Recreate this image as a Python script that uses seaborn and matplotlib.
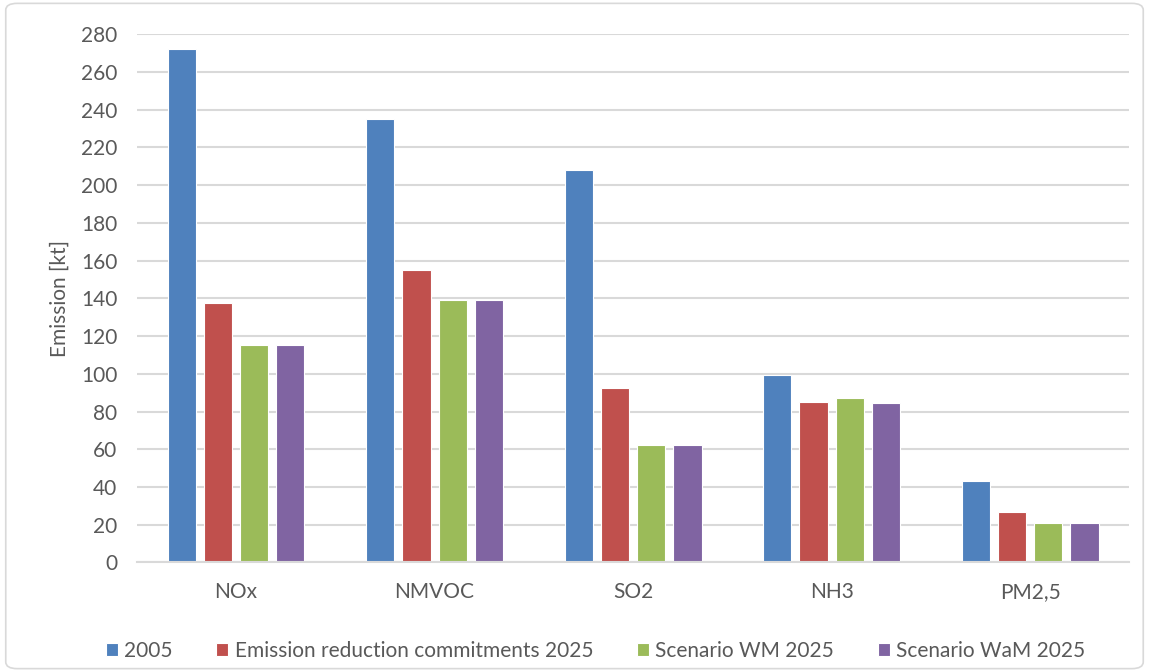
import pandas as pd
import seaborn as sns
import matplotlib.pyplot as plt
from matplotlib.patches import FancyBboxPatch

# Data
pollutants = ['NOx', 'NMVOC', 'SO2', 'NH3', 'PM2,5']
series = ['2005', 'Emission reduction commitments 2025',
          'Scenario WM 2025', 'Scenario WaM 2025']
values_2005 = [272.2, 235.1, 208.2, 99.2, 43.0]
values_commit = [137.5, 155.1, 92.7, 84.9, 26.6]
values_wm = [115.2, 139.2, 62.3, 87.4, 20.7]
values_wam = [115.2, 139.2, 62.3, 84.4, 20.7]
colors = ['#4F81BD', '#C0504D', '#9BBB59', '#8064A2']

# Long format for seaborn
df = pd.DataFrame({
    'Pollutant': pollutants * 4,
    'Series': [s for s in series for _ in pollutants],
    'Emission': values_2005 + values_commit + values_wm + values_wam,
})

sns.set_theme(style='white')
plt.rcParams['font.family'] = ['Lato', 'DejaVu Sans']
text_color = '#595959'

fig = plt.figure(figsize=(11.49, 6.72), dpi=100)
ax = fig.add_axes([0.119, 0.163, 0.864, 0.786])

sns.barplot(data=df, x='Pollutant', y='Emission', hue='Series',
            order=pollutants, hue_order=series, palette=colors,
            width=0.73, gap=0.22, edgecolor='white', linewidth=0.8,
            saturation=1, ax=ax)

ax.set_ylim(0, 280)
ax.set_yticks(range(0, 281, 20))
ax.yaxis.grid(True, color='#d9d9d9', linewidth=1.5)
ax.set_axisbelow(True)
for side in ['left', 'right', 'top']:
    ax.spines[side].set_visible(False)
ax.spines['bottom'].set_color('#d9d9d9')
ax.spines['bottom'].set_linewidth(1.5)
ax.tick_params(axis='both', length=0, labelsize=15, colors=text_color)
ax.tick_params(axis='x', pad=14)
ax.tick_params(axis='y', pad=14)
ax.set_xlabel('')
ax.set_ylabel('Emission [kt]', fontsize=15, color=text_color, labelpad=8)

# legend sits slightly left of the plot centre, as in the original
ax.legend(loc='center', bbox_to_anchor=(0.462, -0.168), ncol=4,
          frameon=False, fontsize=15, labelcolor=text_color,
          handlelength=0.58, handleheight=0.58, handletextpad=0.3,
          columnspacing=2.1)

# light grey chart border
fig.patches.append(FancyBboxPatch((0.005, 0.005), 0.99, 0.99,
                                  boxstyle='round,pad=0,rounding_size=0.01',
                                  transform=fig.transFigure, fill=False,
                                  edgecolor='#d9d9d9', linewidth=1.2))

fig.savefig('out.png', dpi=100)
